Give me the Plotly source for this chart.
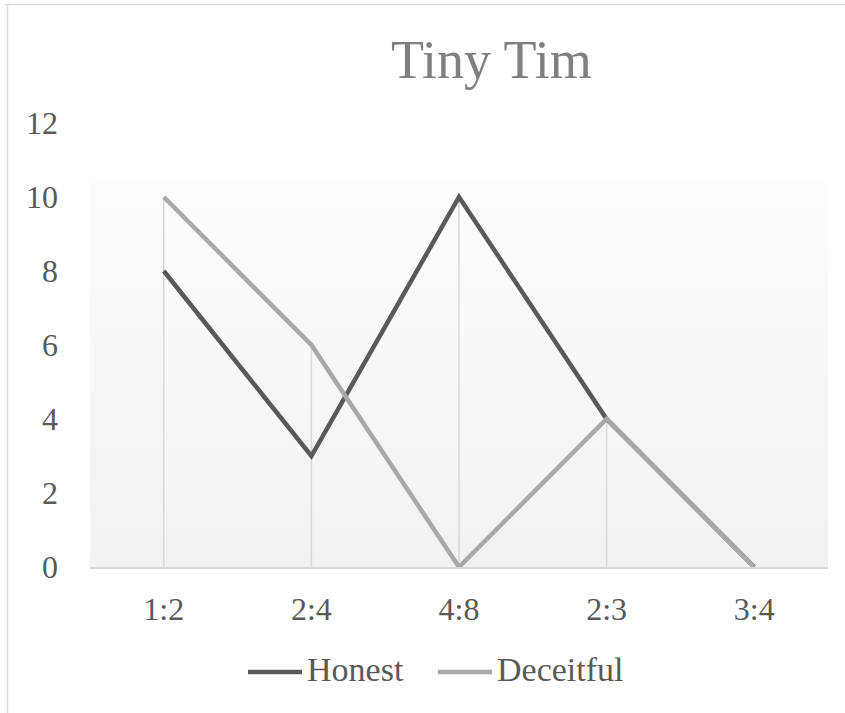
import plotly.graph_objects as go

# Ratio categories and the two series
categories = ["1:2", "2:4", "4:8", "2:3", "3:4"]
honest = [8, 3, 10, 4, 0]
deceitful = [10, 6, 0, 4, 0]
y_ticks = [0, 2, 4, 6, 8, 10, 12]

title_text = "Tiny Tim"
FONT = "Liberation Serif"
HONEST_COLOR = "#595959"
DECEIT_COLOR = "#a8a8a8"
LINE_GREY = "#d9d9d9"

# Canvas and plot-area geometry (pixels)
W, H = 845, 713
L, R, T, B = 90, 17, 123, 146
PW, PH = W - L - R, H - T - B
BAND_TOP = 10.4  # top of the shaded band inside the plot area


def px_x(p):
    return (p - L) / PW


def px_y(p):
    return (H - B - p) / PH


xs = list(range(len(categories)))
fig = go.Figure()

# Shaded band: light vertical gradient behind the data
fig.add_trace(go.Scatter(
    x=[-0.5, len(categories) - 0.5, len(categories) - 0.5, -0.5, -0.5],
    y=[0, 0, BAND_TOP, BAND_TOP, 0],
    mode="lines", line=dict(width=0), fill="toself",
    fillgradient=dict(type="vertical", start=0, stop=BAND_TOP,
                      colorscale=[[0, "#f1f1f1"], [1, "#fdfdfd"]]),
    hoverinfo="skip", showlegend=False,
))

# Drop lines from the highest point at each category down to the axis
drop_x, drop_y = [], []
for i, (a, b) in enumerate(zip(honest, deceitful)):
    top = max(a, b)
    if top > 0:
        drop_x += [i, i, None]
        drop_y += [0, top, None]
fig.add_trace(go.Scatter(
    x=drop_x, y=drop_y, mode="lines",
    line=dict(color=LINE_GREY, width=1.5),
    hoverinfo="skip", showlegend=False,
))

fig.add_trace(go.Scatter(
    x=xs, y=honest, mode="lines", name="Honest",
    line=dict(color=HONEST_COLOR, width=4.5, shape="linear"),
    showlegend=False,
))
fig.add_trace(go.Scatter(
    x=xs, y=deceitful, mode="lines", name="Deceitful",
    line=dict(color=DECEIT_COLOR, width=4.5, shape="linear"),
    showlegend=False,
))

shapes = [
    # chart border (top and left edges)
    dict(type="line", xref="paper", yref="paper",
         x0=px_x(5), x1=px_x(W + 5), y0=px_y(4.5), y1=px_y(4.5),
         line=dict(color=LINE_GREY, width=1.5)),
    dict(type="line", xref="paper", yref="paper",
         x0=px_x(7.5), x1=px_x(7.5), y0=px_y(4.5), y1=px_y(H + 5),
         line=dict(color=LINE_GREY, width=1.5)),
]

# Legend drawn as line swatches with labels
legend_items = [("Honest", HONEST_COLOR, 248), ("Deceitful", DECEIT_COLOR, 438)]
annotations = []
for label, color, x0 in legend_items:
    shapes.append(dict(type="line", xref="paper", yref="paper",
                       x0=px_x(x0), x1=px_x(x0 + 54), y0=px_y(672), y1=px_y(672),
                       line=dict(color=color, width=4.5)))
    annotations.append(dict(text=label, xref="paper", yref="paper",
                            x=px_x(x0 + 57), y=px_y(669), xanchor="left", yanchor="middle",
                            showarrow=False, font=dict(family=FONT, size=34, color="#595959")))

annotations.append(dict(text=title_text, xref="paper", yref="paper",
                        x=px_x(491), y=px_y(60), xanchor="center", yanchor="middle",
                        showarrow=False, font=dict(family=FONT, size=54, color="#808080")))

fig.update_layout(
    width=W, height=H,
    margin=dict(l=L, r=R, t=T, b=B, pad=0),
    paper_bgcolor="white", plot_bgcolor="rgba(0,0,0,0)",
    font=dict(family=FONT, color="#595959", size=32),
    shapes=shapes, annotations=annotations,
    showlegend=False,
)
fig.update_xaxes(
    range=[-0.5, len(categories) - 0.5], tickvals=xs, ticktext=categories,
    showgrid=False, zeroline=False, showline=True, linecolor=LINE_GREY, linewidth=2,
    ticks="", ticklabelstandoff=13, tickfont=dict(family=FONT, size=32, color="#595959"),
    fixedrange=True,
)
fig.update_yaxes(
    range=[0, 12], tickvals=y_ticks, showgrid=False, zeroline=False, showline=False,
    ticks="", ticklabelstandoff=31, tickfont=dict(family=FONT, size=32, color="#595959"),
    fixedrange=True,
)

fig.write_html("out.html")
